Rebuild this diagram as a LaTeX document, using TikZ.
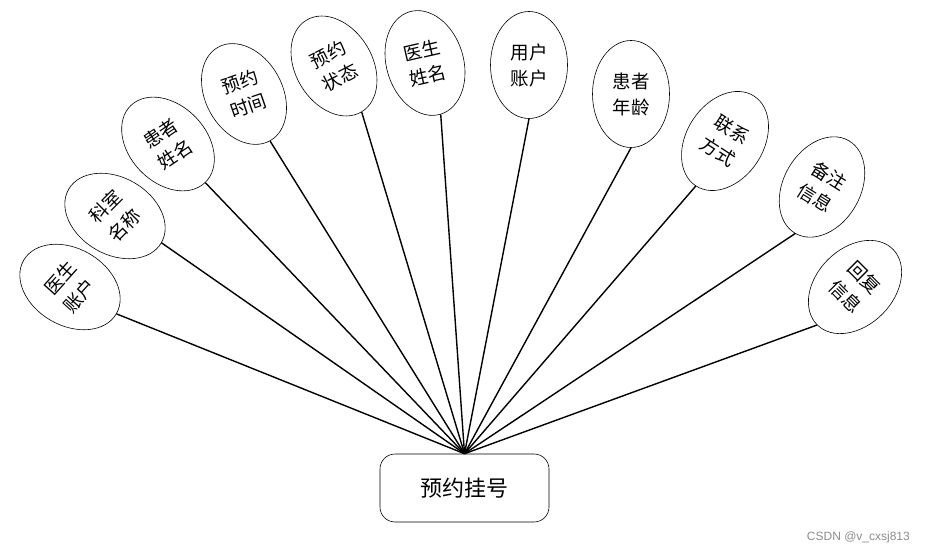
\documentclass[tikz,border=0pt]{standalone}
\usepackage{fontspec}
\newfontfamily\cjk{Noto Sans CJK SC}
\newfontfamily\wmfont{Liberation Sans}
\usetikzlibrary{shapes.geometric}
\tikzset{
  attr/.style={ellipse, draw, line width=0.6pt, minimum width=77pt, minimum height=107pt, inner sep=0pt},
  attrtext/.style={align=center, inner sep=0pt, font=\cjk\fontsize{18.5}{26}\selectfont},
  entity/.style={draw, line width=0.6pt, rounded corners=15pt, minimum width=169pt, minimum height=68pt, inner sep=0pt, font=\cjk\fontsize{22}{26}\selectfont},
  link/.style={line width=1.4pt}
}
\begin{document}
\begin{tikzpicture}[x=1pt,y=1pt]
\useasboundingbox (0,0) rectangle (925,554);
\node[entity] (r) at (464.5,66) {预约挂号};
% attribute ellipses
\node[attr, rotate=60]  (e1)  at (70,267)  {};
\node[attr, rotate=60]  (e2)  at (115,338) {};
\node[attr, rotate=44]  (e3)  at (168,410) {};
\node[attr, rotate=29]  (e4)  at (244,460) {};
\node[attr, rotate=31]  (e5)  at (334,488) {};
\node[attr, rotate=17]  (e6)  at (425,491) {};
\node[attr]             (e7)  at (529,489) {};
\node[attr]             (e8)  at (631,460) {};
\node[attr, rotate=-33] (e9)  at (725,413) {};
\node[attr, rotate=-30] (e10) at (822,367) {};
\node[attr, rotate=-45] (e11) at (855,267) {};
% texts
\node[attrtext, rotate=48]  (t1)  at (e1)  {医生\\账户};
\node[attrtext, rotate=45]  (t2)  at (e2)  {科室\\名称};
\node[attrtext, rotate=34]  (t3)  at (e3)  {患者\\姓名};
\node[attrtext, rotate=19]  (t4)  at (e4)  {预约\\时间};
\node[attrtext, rotate=27]  (t5)  at (e5)  {预约\\状态};
\node[attrtext, rotate=13]  (t6)  at (e6)  {医生\\姓名};
\node[attrtext]             (t7)  at (e7)  {用户\\账户};
\node[attrtext]             (t8)  at (e8)  {患者\\年龄};
\node[attrtext, rotate=-33] (t9)  at (e9)  {联系\\方式};
\node[attrtext, rotate=-32] (t10) at (e10) {备注\\信息};
\node[attrtext, rotate=-45] (t11) at (e11) {回复\\信息};
% connectors
\foreach \i in {1,...,11} {
  \draw[link] (r.north) -- (e\i.south);
}
\node[anchor=east, inner sep=0pt, text=black!45, font=\wmfont\fontsize{12}{14}\selectfont] (wm) at (910,17) {CSDN @v\_cxsj813};
\end{tikzpicture}
\end{document}
